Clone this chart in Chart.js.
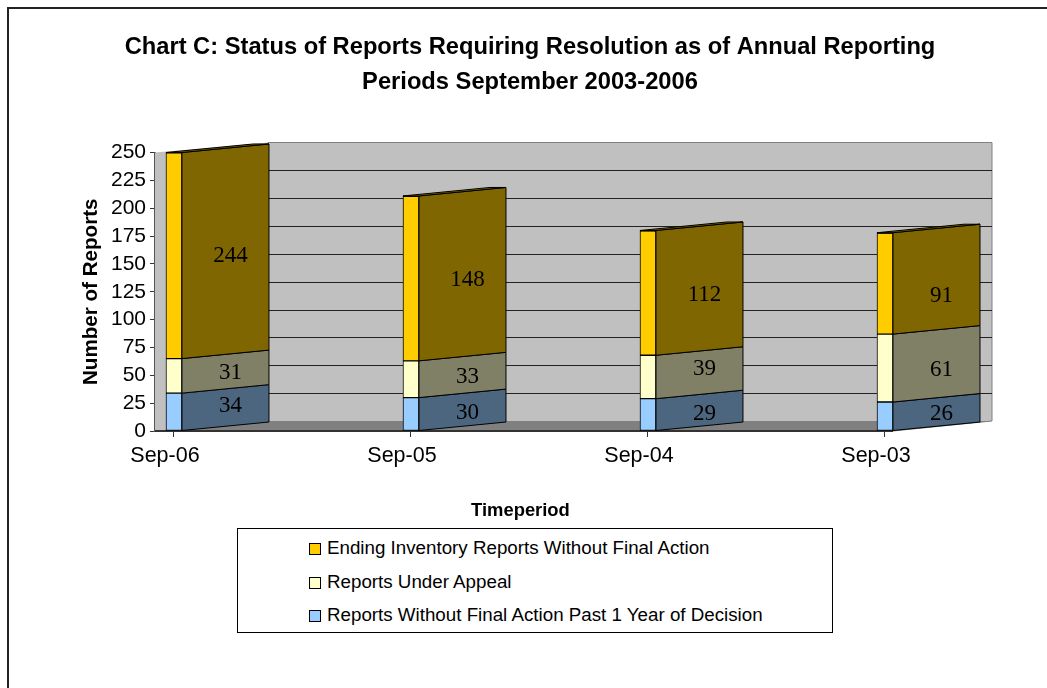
<!DOCTYPE html>
<html>
<head>
<meta charset="utf-8">
<script src="https://cdn.jsdelivr.net/npm/chart.js@4"></script>
<style>
  html, body { margin: 0; padding: 0; background: #fff; }
  #wrap { position: relative; width: 1047px; height: 688px; overflow: hidden; }
  canvas { display: block; }
  #frame { position: absolute; left: 7px; top: 7px; width: 1050px; height: 700px; border: solid #222; border-width: 2px 0 0 2px; box-sizing: border-box; }
  #legend { position: absolute; left: 237px; top: 528px; width: 596px; height: 105px; border: 1px solid #000; box-sizing: border-box; background: #fff;
            font: 18.75px "Liberation Sans", Arial, sans-serif; color: #000; }
  #legend div { position: absolute; left: 71px; white-space: nowrap; }
  #legend i { display: inline-block; width: 12px; height: 12px; border: 1px solid #000; margin-right: 6px; box-sizing: border-box; vertical-align: -1px; }
</style>
</head>
<body>
<div id="wrap">
  <div id="frame"></div>
  <canvas id="chart" width="1047" height="688" style="position:relative"></canvas>
  <div id="legend"></div>
</div>
<script>
const categories = ['Sep-06', 'Sep-05', 'Sep-04', 'Sep-03'];
const pastYear = [34, 30, 29, 26];
const underAppeal = [31, 33, 39, 61];
const endingInventory = [244, 148, 112, 91];

const seriesNames = [
  'Reports Without Final Action Past 1 Year of Decision',
  'Reports Under Appeal',
  'Ending Inventory Reports Without Final Action'
];
const frontColors = ['#99CCFF', '#FFFFCC', '#FFCC00'];
const sideColors = ['#4D6680', '#808066', '#806600'];

// offset of the back wall and of the bar depth, fake 3D like the Excel original
const WALL_DX = 99, WALL_DY = -10;
const BAR_DX = 87, BAR_DY = -8.5;
const SANS = '"Liberation Sans", Arial, sans-serif';
// the original places its value labels a bit unevenly, per series then per bar
const labelShiftY = [[-3, 2, 2, 1], [0, 1, -5, 5], [3, 5, 5, 16]];

const px = v => Math.round(v) + 0.5;

const walls3d = {
  id: 'walls3d',
  beforeDatasetsDraw(chart) {
    const { ctx, chartArea: a, scales: { y } } = chart;
    const frontRight = a.right - WALL_DX;
    const backLeft = a.left + WALL_DX + 14;
    ctx.save();
    ctx.fillStyle = '#C0C0C0';
    ctx.beginPath();
    ctx.moveTo(a.left, a.top);
    ctx.lineTo(backLeft, a.top + WALL_DY);
    ctx.lineTo(a.right, a.top + WALL_DY);
    ctx.lineTo(a.right, a.bottom + WALL_DY);
    ctx.lineTo(frontRight, a.bottom);
    ctx.lineTo(a.left, a.bottom);
    ctx.closePath();
    ctx.fill();
    ctx.strokeStyle = '#808080';
    ctx.beginPath();
    ctx.moveTo(backLeft, a.top + WALL_DY);
    ctx.lineTo(a.right, a.top + WALL_DY);
    ctx.lineTo(a.right, a.bottom + WALL_DY);
    ctx.lineTo(frontRight, a.bottom);
    ctx.stroke();

    // floor
    ctx.fillStyle = '#808080';
    ctx.beginPath();
    ctx.moveTo(a.left, a.bottom);
    ctx.lineTo(a.left + WALL_DX, a.bottom + WALL_DY);
    ctx.lineTo(a.right, a.bottom + WALL_DY);
    ctx.lineTo(frontRight, a.bottom);
    ctx.closePath();
    ctx.fill();

    // grid lines sit on the back wall
    ctx.strokeStyle = '#222';
    y.ticks.forEach(t => {
      if (t.value === 0 || t.value === 250) return;
      const yy = px(y.getPixelForValue(t.value) + WALL_DY);
      ctx.beginPath();
      ctx.moveTo(a.left + WALL_DX, yy);
      ctx.lineTo(a.right, yy);
      ctx.stroke();
    });

    // front floor edge
    ctx.strokeStyle = '#333';
    ctx.lineWidth = 2;
    ctx.beginPath();
    ctx.moveTo(a.left, a.bottom);
    ctx.lineTo(frontRight, a.bottom);
    ctx.stroke();
    ctx.restore();
  },
  afterDatasetsDraw(chart) {
    const { ctx, chartArea: a, data, scales: { x } } = chart;
    ctx.save();
    ctx.lineWidth = 1;
    ctx.strokeStyle = '#000';
    data.datasets.forEach((ds, di) => {
      chart.getDatasetMeta(di).data.forEach((bar, i) => {
        const p = bar.getProps(['x', 'y', 'base', 'width']);
        const right = p.x + p.width / 2;
        const left = p.x - p.width / 2;
        const top = Math.max(p.y, a.top);
        const base = p.base;
        // side face
        ctx.fillStyle = sideColors[di];
        ctx.beginPath();
        ctx.moveTo(right, top);
        ctx.lineTo(right + BAR_DX, top + BAR_DY);
        ctx.lineTo(right + BAR_DX, base + BAR_DY);
        ctx.lineTo(right, base);
        ctx.closePath();
        ctx.fill();
        ctx.stroke();
        // top sliver on the last segment only
        if (di === data.datasets.length - 1) {
          ctx.beginPath();
          ctx.moveTo(left, top);
          ctx.lineTo(left + BAR_DX, top + BAR_DY);
          ctx.lineTo(right + BAR_DX, top + BAR_DY);
          ctx.lineTo(right, top);
          ctx.closePath();
          ctx.fill();
          ctx.stroke();
          ctx.fillStyle = '#000';
          ctx.fillRect(left, top, p.width, 1);
        }
        // value on the side face
        ctx.fillStyle = '#000';
        ctx.font = '23px "Liberation Serif", "Times New Roman", serif';
        ctx.textAlign = 'center';
        ctx.textBaseline = 'middle';
        ctx.fillText(ds.data[i].y, right + BAR_DX / 2 + 5, (top + base) / 2 - 3 + labelShiftY[di][i]);
      });
    });

    // axis title is off-centre in the original, the scale can't do that by itself
    ctx.fillStyle = '#000';
    ctx.font = 'bold 18.4px ' + SANS;
    ctx.textAlign = 'center';
    ctx.textBaseline = 'middle';
    ctx.fillText('Timeperiod', x.getPixelForValue(1.4619), 511);
    ctx.restore();
  }
};

new Chart(document.getElementById('chart'), {
  type: 'bar',
  data: {
    datasets: [pastYear, underAppeal, endingInventory].map((vals, k) => ({
      label: seriesNames[k],
      data: vals.map((v, i) => ({ x: i, y: v })),
      backgroundColor: frontColors[k],
      borderColor: '#000',
      borderWidth: 1,
      borderSkipped: false,
      barThickness: 16,
      stack: 'a'
    }))
  },
  options: {
    responsive: false,
    animation: false,
    events: [],
    layout: { padding: { left: 68, right: 55, top: 0, bottom: 0 } },
    plugins: {
      legend: { display: false },
      tooltip: { enabled: false },
      title: {
        display: true,
        text: ['Chart C: Status of Reports Requiring Resolution as of Annual Reporting', 'Periods September 2003-2006'],
        color: '#000',
        font: { family: SANS, size: 23.7, weight: 'bold', lineHeight: 1.477 },
        padding: { top: 30, bottom: 52.5 }
      }
    },
    scales: {
      x: {
        type: 'linear',
        offset: false,
        stacked: true,
        min: -0.08,
        max: 3.4515,
        grid: { offset: false, drawOnChartArea: false, drawTicks: true, tickLength: 6, color: '#333' },
        border: { display: false },
        afterBuildTicks(scale) { scale.ticks = categories.map((c, i) => ({ value: i })); },
        afterFit(scale) { scale.height = 257; },
        ticks: {
          autoSkip: false,
          maxRotation: 0,
          color: '#000',
          padding: 6,
          labelOffset: -9,
          font: { family: SANS, size: 21.5 },
          callback: v => categories[v]
        }
      },
      y: {
        stacked: true,
        min: 0,
        max: 250,
        grid: { drawOnChartArea: false, drawTicks: true, tickLength: 5, color: '#333' },
        border: { display: true, color: '#555', width: 2 },
        afterFit(scale) { scale.width = 87; },
        ticks: {
          stepSize: 25,
          autoSkip: false,
          color: '#000',
          padding: 4,
          font: { family: SANS, size: 21 }
        },
        title: {
          display: true,
          text: 'Number of Reports',
          color: '#000',
          font: { family: SANS, size: 20.6, weight: 'bold' },
          padding: { top: 11, bottom: 0 }
        }
      }
    }
  },
  plugins: [walls3d]
});

// legend is listed top series first
const legendBox = document.getElementById('legend');
[2, 1, 0].forEach((k, row) => {
  const d = document.createElement('div');
  d.style.top = (8 + row * 33.5) + 'px';
  d.innerHTML = '<i style="background:' + frontColors[k] + '"></i>';
  d.appendChild(document.createTextNode(seriesNames[k]));
  legendBox.appendChild(d);
});
</script>
</body>
</html>
